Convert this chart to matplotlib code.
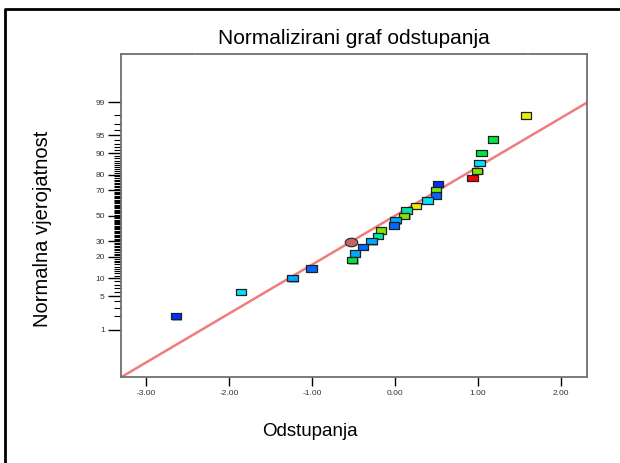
import numpy as np
import matplotlib
matplotlib.use("Agg")
import matplotlib.pyplot as plt
import matplotlib.transforms as mtransforms
from matplotlib.lines import Line2D
from matplotlib.path import Path
from statistics import NormalDist

plt.rcParams['font.family'] = ['Liberation Sans', 'DejaVu Sans']

# ---- Residuals and their normal probability (%) ----
residuals = [1.580, 1.182, 1.046, 1.022, 0.993, 0.937, 0.519, 0.495, 0.495,
             0.394, 0.253, 0.141, 0.112, 0.008, -0.012, -0.169, -0.205,
             -0.281, -0.386, -0.483, -0.515, -1.005, -1.234, -1.858, -2.642]
probability = [98.0, 94.1, 90.1, 86.1, 82.1, 78.2, 74.2, 70.3, 66.1,
               62.3, 58.1, 54.3, 50.0, 46.5, 42.1, 38.2, 34.1,
               30.3, 26.3, 22.0, 18.2, 14.0, 10.1, 6.0, 2.0]
point_colors = ['#e8f000', '#00e640', '#00e640', '#00e0ff', '#7ee600', '#ff0000',
                '#0030ff', '#7ee600', '#0068ff', '#00e0ff', '#e8f000', '#00e6a8',
                '#7ee600', '#00a8ff', '#0068ff', '#7ee600', '#00e6a8', '#00a8ff',
                '#0068ff', '#00a8ff', '#00e640', '#0068ff', '#00a8ff', '#00e0ff',
                '#0030ff']

# highlighted run (drawn as an ellipse)
marked_residual = [-0.531]
marked_probability = [29.6]

prob_ticks = [1, 5, 10, 20, 30, 50, 70, 80, 90, 95, 99]
prob_minor = [p for p in range(1, 100) if p not in prob_ticks]
x_ticks = [-3, -2, -1, 0, 1, 2]

nd = NormalDist()


def to_z(p):
    return np.array([nd.inv_cdf(v / 100.0) for v in p])


# ---- Figure ----
fig = plt.figure(figsize=(6.2, 4.63), dpi=100)
ax = fig.add_axes([0.1947, 0.1864, 0.7526, 0.697])

rect = Path([(-1, -0.62), (1, -0.62), (1, 0.62), (-1, 0.62), (-1, -0.62)],
            [Path.MOVETO, Path.LINETO, Path.LINETO, Path.LINETO, Path.CLOSEPOLY])
t = np.linspace(0, 2 * np.pi, 40)
ell = Path(np.column_stack([np.cos(t), 0.68 * np.sin(t)]))

# normal line
ax.axline((0, 0), slope=1, color='#f07c7c', lw=1.8, zorder=2)

# drop shadow behind the markers
shadow = ax.transData + mtransforms.ScaledTranslation(1.1 / 72, -1.1 / 72, fig.dpi_scale_trans)
ax.scatter(residuals, to_z(probability), marker=rect, s=56, color='#a8a8a8',
           linewidths=0, transform=shadow, zorder=3)
ax.scatter(residuals, to_z(probability), marker=rect, s=56, c=point_colors,
           edgecolors='#202020', linewidths=0.9, zorder=4)
ax.scatter(marked_residual, to_z(marked_probability), marker=ell, s=80,
           color='#c46464', edgecolors='#303030', linewidths=0.9, zorder=4)

ax.set_xlim(-3.305, 2.32)
ax.set_ylim(-3.29, 3.31)

# ---- Axes styling ----
ax.set_xticks(x_ticks)
ax.set_xticklabels(['%.2f' % v for v in x_ticks])
ax.set_yticks(to_z(prob_ticks))
ax.set_yticklabels([str(p) for p in prob_ticks])
ax.set_yticks(to_z(prob_minor), minor=True)
ax.tick_params(axis='x', direction='out', length=6.5, width=1.0, color='black',
               labelsize=6, labelcolor='#333333', pad=3)
ax.tick_params(axis='y', which='major', direction='out', length=9.5, width=1.0,
               color='black', labelsize=6, labelcolor='#333333', pad=2)
ax.tick_params(axis='y', which='minor', direction='out', length=5, width=0.8,
               color='black')

for side in ['left', 'bottom', 'right']:
    ax.spines[side].set_color('#707070')
    ax.spines[side].set_linewidth(1.3)
ax.spines['top'].set_visible(False)

# top border broken around the title
for a, b in [(0, 0.157), (0.161, 0.871), (0.875, 1)]:
    ax.add_line(Line2D([a, b], [1, 1], transform=ax.transAxes, color='#707070',
                       lw=1.3, clip_on=False))

ax.set_title('Normalizirani graf odstupanja', fontsize=15, pad=7)
fig.text(0.5, 1 - 432 / 463, 'Odstupanja', fontsize=13.5, ha='center', va='center')
fig.text(42 / 620, 1 - 229 / 463, 'Normalna vjerojatnost', fontsize=14.5,
         rotation=90, ha='center', va='center')

# outer frame
fig.add_artist(Line2D([5 / 620, 5 / 620, 1], [0, 1 - 9 / 463, 1 - 9 / 463],
                      transform=fig.transFigure, color='black', lw=2))

fig.savefig('out.png', dpi=100)
